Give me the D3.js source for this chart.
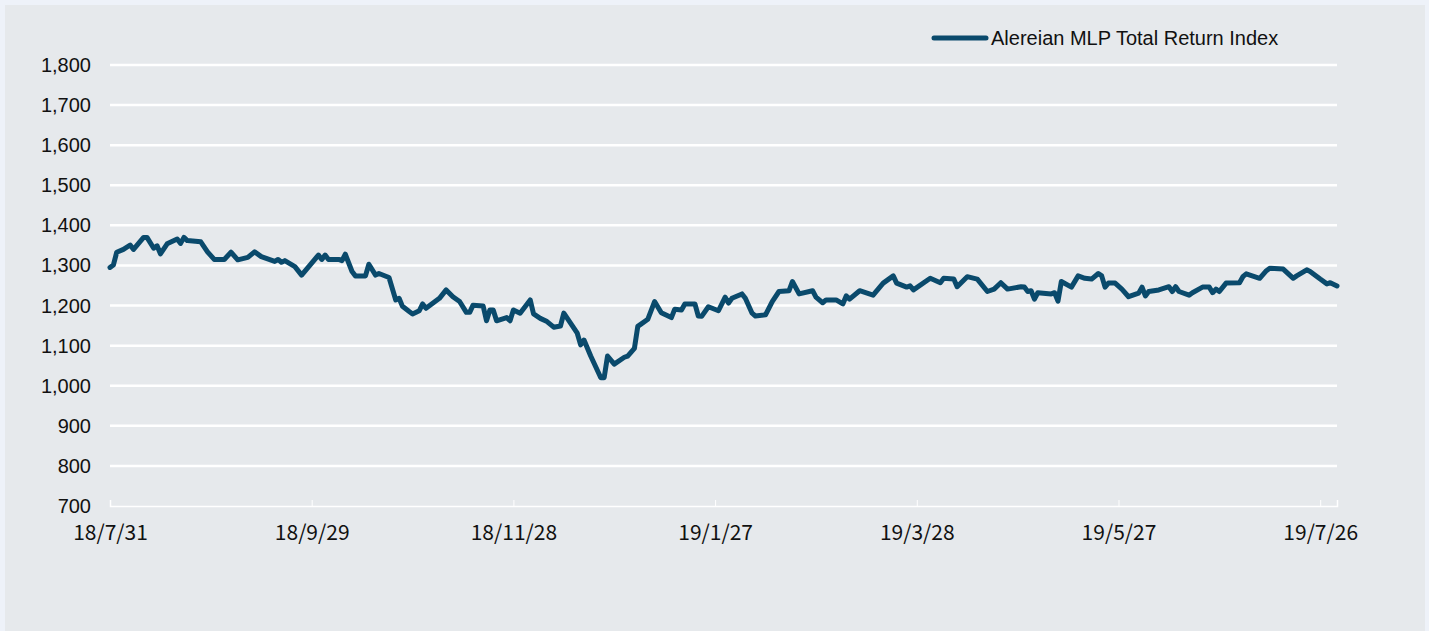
<!DOCTYPE html>
<html>
<head>
<meta charset="utf-8">
<script src="https://cdn.jsdelivr.net/npm/d3@7"></script>
<style>
    body { margin: 0; background: #eef2f9; }
    svg { display: block; }
</style>
</head>
<body>
<svg id="chart" width="1429" height="631"></svg>
<script>
const seriesName = "Alereian MLP Total Return Index";

// 日付と指数値
const dates = [
    "2018-07-31", "2018-08-01", "2018-08-02", "2018-08-04", "2018-08-06", "2018-08-07", "2018-08-10", "2018-08-11",
    "2018-08-13", "2018-08-14", "2018-08-15", "2018-08-17", "2018-08-20", "2018-08-21", "2018-08-22", "2018-08-23",
    "2018-08-27", "2018-08-29", "2018-08-31", "2018-09-03", "2018-09-05", "2018-09-07", "2018-09-10", "2018-09-12",
    "2018-09-14", "2018-09-18", "2018-09-19", "2018-09-20", "2018-09-21", "2018-09-24", "2018-09-26", "2018-10-01",
    "2018-10-02", "2018-10-03", "2018-10-04", "2018-10-07", "2018-10-08", "2018-10-09", "2018-10-11", "2018-10-12",
    "2018-10-15", "2018-10-16", "2018-10-18", "2018-10-19", "2018-10-22", "2018-10-24", "2018-10-25", "2018-10-26",
    "2018-10-28", "2018-10-29", "2018-10-31", "2018-11-01", "2018-11-02", "2018-11-06", "2018-11-08", "2018-11-10",
    "2018-11-12", "2018-11-14", "2018-11-15", "2018-11-16", "2018-11-19", "2018-11-20", "2018-11-21", "2018-11-22",
    "2018-11-23", "2018-11-26", "2018-11-27", "2018-11-28", "2018-11-30", "2018-12-03", "2018-12-04", "2018-12-06",
    "2018-12-08", "2018-12-10", "2018-12-12", "2018-12-13", "2018-12-17", "2018-12-18", "2018-12-19", "2018-12-21",
    "2018-12-24", "2018-12-25", "2018-12-26", "2018-12-28", "2018-12-31", "2019-01-01", "2019-01-03", "2019-01-04",
    "2019-01-07", "2019-01-09", "2019-01-11", "2019-01-14", "2019-01-15", "2019-01-17", "2019-01-18", "2019-01-21",
    "2019-01-22", "2019-01-23", "2019-01-25", "2019-01-28", "2019-01-30", "2019-01-31", "2019-02-01", "2019-02-04",
    "2019-02-05", "2019-02-07", "2019-02-08", "2019-02-11", "2019-02-13", "2019-02-15", "2019-02-18", "2019-02-19",
    "2019-02-21", "2019-02-25", "2019-02-26", "2019-02-28", "2019-03-01", "2019-03-04", "2019-03-06", "2019-03-07",
    "2019-03-08", "2019-03-11", "2019-03-15", "2019-03-18", "2019-03-21", "2019-03-22", "2019-03-25", "2019-03-26",
    "2019-03-27", "2019-04-01", "2019-04-04", "2019-04-05", "2019-04-08", "2019-04-09", "2019-04-12", "2019-04-15",
    "2019-04-18", "2019-04-20", "2019-04-22", "2019-04-24", "2019-04-28", "2019-04-29", "2019-04-30", "2019-05-01",
    "2019-05-02", "2019-05-03", "2019-05-07", "2019-05-08", "2019-05-09", "2019-05-10", "2019-05-13", "2019-05-15",
    "2019-05-17", "2019-05-19", "2019-05-21", "2019-05-22", "2019-05-23", "2019-05-24", "2019-05-26", "2019-05-28",
    "2019-05-30", "2019-06-02", "2019-06-03", "2019-06-04", "2019-06-05", "2019-06-08", "2019-06-11", "2019-06-12",
    "2019-06-13", "2019-06-14", "2019-06-17", "2019-06-18", "2019-06-21", "2019-06-23", "2019-06-24", "2019-06-25",
    "2019-06-26", "2019-06-28", "2019-07-02", "2019-07-03", "2019-07-04", "2019-07-08", "2019-07-10", "2019-07-11",
    "2019-07-15", "2019-07-18", "2019-07-19", "2019-07-22", "2019-07-23", "2019-07-26", "2019-07-28", "2019-07-29",
    "2019-07-31"
];

const values = [
    1295, 1301, 1333, 1340, 1351, 1340, 1370, 1370,
    1343, 1349, 1329, 1354, 1366, 1355, 1370, 1362,
    1359, 1334, 1315, 1315, 1333, 1314, 1320, 1334,
    1322, 1310, 1315, 1308, 1312, 1297, 1276, 1326,
    1315, 1326, 1315, 1315, 1312, 1328, 1285, 1274,
    1274, 1303, 1276, 1280, 1270, 1214, 1218, 1198,
    1185, 1179, 1187, 1204, 1193, 1218, 1239, 1222,
    1210, 1183, 1183, 1201, 1199, 1162, 1189, 1189,
    1162, 1170, 1162, 1189, 1181, 1214, 1179, 1168,
    1160, 1146, 1149, 1181, 1131, 1102, 1114, 1074,
    1020, 1020, 1074, 1054, 1071, 1074, 1093, 1148,
    1166, 1210, 1182, 1170, 1191, 1189, 1204, 1204,
    1174, 1173, 1197, 1187, 1221, 1206, 1218, 1229,
    1218, 1181, 1174, 1177, 1210, 1235, 1237, 1260,
    1229, 1237, 1221, 1207, 1214, 1214, 1204, 1224,
    1216, 1237, 1226, 1256, 1274, 1256, 1246, 1249,
    1239, 1268, 1257, 1268, 1266, 1247, 1272, 1266,
    1235, 1241, 1257, 1241, 1247, 1246, 1235, 1237,
    1216, 1232, 1229, 1232, 1211, 1260, 1246, 1274,
    1268, 1266, 1280, 1274, 1246, 1256, 1256, 1241,
    1222, 1231, 1246, 1224, 1235, 1239, 1247, 1235,
    1247, 1235, 1226, 1232, 1246, 1246, 1232, 1241,
    1235, 1256, 1257, 1272, 1279, 1268, 1287, 1293,
    1291, 1268, 1274, 1289, 1285, 1266, 1254, 1257,
    1249
];

const yTicks = [700, 800, 900, 1000, 1100, 1200, 1300, 1400, 1500, 1600, 1700, 1800];
const xTickLabels = ["18/7/31", "18/9/29", "18/11/28", "19/1/27", "19/3/28", "19/5/27", "19/7/26"];

const parseDate = d3.timeParse("%Y-%m-%d");
const data = dates.map((d, i) => ({ date: parseDate(d), value: values[i] }));

const svg = d3.select("#chart");
const margin = { left: 110, right: 1337, top: 65, bottom: 506 };

// パネル背景
svg.append("rect")
    .attr("x", 5).attr("y", 5)
    .attr("width", 1420).attr("height", 626)
    .attr("fill", "#e6e9ec");

const x = d3.scaleTime()
    .domain([parseDate("2018-07-31"), parseDate("2019-07-31")])
    .range([margin.left, margin.right]);

const y = d3.scaleLinear()
    .domain([700, 1800])
    .range([margin.bottom, margin.top]);

// グリッド線
svg.append("g")
    .selectAll("line")
    .data(yTicks.filter(t => t > 700))
    .join("line")
    .attr("x1", margin.left)
    .attr("x2", margin.right)
    .attr("y1", d => y(d))
    .attr("y2", d => y(d))
    .attr("stroke", "#ffffff")
    .attr("stroke-width", 2.5);

// Y軸ラベル
svg.append("g")
    .selectAll("text")
    .data(yTicks)
    .join("text")
    .attr("x", 91)
    .attr("y", d => y(d))
    .attr("dy", "0.35em")
    .attr("text-anchor", "end")
    .style("font-family", "'Liberation Sans', Arial, sans-serif")
    .style("font-size", "20px")
    .style("fill", "#111")
    .text(d => d3.format(",")(d));

// X軸
const tickDates = xTickLabels.map((s, i) => d3.timeDay.offset(parseDate("2018-07-31"), i * 60));
const xAxis = d3.axisBottom(x)
    .tickValues(tickDates)
    .tickSize(-6)
    .tickFormat((d, i) => xTickLabels[i]);

const gx = svg.append("g")
    .attr("transform", `translate(0,${margin.bottom})`)
    .call(xAxis);
gx.select(".domain").attr("stroke", "#ffffff").attr("stroke-width", 1.5);
gx.selectAll(".tick line").attr("stroke", "#ffffff");
gx.selectAll(".tick text")
    .attr("y", 19)
    .style("font-family", "'Noto Sans CJK JP', sans-serif")
    .style("font-size", "21px")
    .style("fill", "#111");

// 指数ライン
const line = d3.line()
    .x(d => x(d.date))
    .y(d => y(d.value));

svg.append("path")
    .datum(data)
    .attr("fill", "none")
    .attr("stroke", "#0a4a6c")
    .attr("stroke-width", 5)
    .attr("stroke-linejoin", "round")
    .attr("stroke-linecap", "round")
    .attr("d", line);

// 凡例
const legend = svg.append("g");
legend.append("line")
    .attr("x1", 934).attr("x2", 986)
    .attr("y1", 38).attr("y2", 38)
    .attr("stroke", "#0a4a6c")
    .attr("stroke-width", 5)
    .attr("stroke-linecap", "round");
legend.append("text")
    .attr("x", 991)
    .attr("y", 38)
    .attr("dy", "0.36em")
    .style("font-family", "'Liberation Sans', Arial, sans-serif")
    .style("font-size", "20px")
    .style("fill", "#111")
    .text(seriesName);
</script>
</body>
</html>
